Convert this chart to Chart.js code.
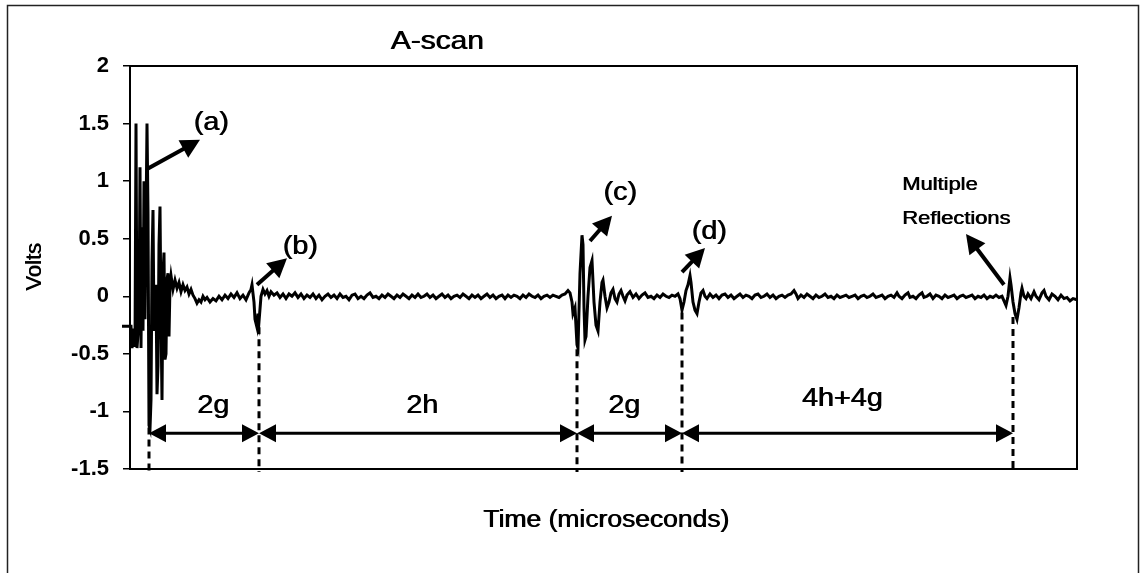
<!DOCTYPE html>
<html><head><meta charset="utf-8">
<script src="https://cdn.jsdelivr.net/npm/chart.js@4.4.0/dist/chart.umd.min.js"></script>
<style>html,body{margin:0;padding:0;background:#fff;}canvas{display:block;}</style>
</head><body>
<canvas id="c" width="1141" height="573"></canvas>
<script>
// ---- data: [time (arbitrary units), volts] ----
const burstA = [[-8,-0.26],[1,-0.26],[2,-0.45],[4,-0.28],[5,-0.44],[6,1.5],[7,-0.45],[9,-0.2],[10,1.12],[11,-0.45],
 [12,0.6],[13,-0.3],[14,1.0],[15,-0.2],[17,1.5],[18,0.72],[19,-1.12],[20,-1.15],[21,-0.9],[22,0.3],
 [23,0.75],[24,-0.3],[26,0.1],[27,-0.85],[28,-0.6],[29,0.45],[30,0.78],[31,-0.2],[32,-0.9],[33,0.2],
 [34,0.38],[35,-0.55],[36,-0.5],[37,0.15],[38,0.2],[39,-0.35],[40,0.1]];
const noiseAB = [[41,0.18],[43,0.06],[45,0.14],[47,0.07],[49,0.12],[51,0.04],[53,0.1],[55,0.05],[57,0.08],[59,0.02],
 [61,0.06],[63,0.01],[65,-0.02],[67,-0.06],[69,-0.03],[71,-0.05],[73,0.0],[75,-0.03],[77,-0.01],[80,-0.05],
 [83,-0.02],[86,-0.04],[89,0.0],[92,-0.03],[95,0.01],[98,-0.02],[101,0.02],[104,-0.01],[107,0.03],[110,-0.02],
 [113,0.01],[116,-0.03],[119,0.03],[121,0.06]];
const echoB = [[122,0.1],[124,-0.05],[125,-0.2],[127,-0.27],[128,-0.15],[129,-0.22],[131,0.0],[133,0.06],[135,0.02],[137,0.05],
 [139,0.0],[141,0.04],[144,0.01],[147,0.03],[150,-0.01],[153,0.02],[156,-0.02],[159,0.02],[162,0.0],[165,0.03],
 [168,-0.01],[171,0.02],[174,-0.02],[177,0.01],[180,-0.01],[183,0.02]];
const noiseBC = [[186,-0.02],[189,0.01],[192,-0.03],[195,0.0],[198,0.02],[201,-0.01],[204,0.01],[207,-0.02],[210,0.02],[213,-0.01],
 [216,0.0],[219,-0.03],[222,0.01],[225,0.02],[228,-0.02],[231,0.0],[234,-0.02],[237,0.01],[240,0.03],[243,-0.01],
 [246,0.0],[249,-0.02],[252,0.01],[255,-0.01],[258,0.02],[261,0.0],[264,-0.02],[267,0.01],[270,-0.01],[273,0.02],
 [276,0.0],[279,-0.02],[282,0.01],[285,-0.01],[288,0.02],[291,-0.01],[294,0.0],[297,0.02],[300,-0.01],[303,0.01],
 [306,-0.02],[309,0.0],[312,0.02],[315,-0.01],[318,0.01],[321,-0.02],[324,0.0],[327,0.01],[330,-0.01],[333,0.02],
 [336,0.0],[339,-0.02],[342,0.01],[345,-0.01],[348,0.01],[351,-0.02],[354,0.0],[357,0.02],[360,-0.01],[363,0.01],
 [366,-0.02],[369,0.0],[372,0.01],[375,-0.02],[378,0.01],[381,-0.01],[384,0.01],[387,0.0],[390,-0.02],[393,0.01],
 [396,-0.01],[399,0.02],[402,0.0],[405,-0.01],[408,0.01],[411,-0.02],[414,0.0],[417,0.01],[420,-0.01],[423,0.01],
 [426,0.0],[429,-0.01],[432,0.01],[435,0.02],[438,0.05],[440,0.03]];
const echoC = [[442,-0.05],[443,-0.15],[445,-0.1],[447,-0.42],[448,-0.45],[450,0.2],[452,0.53],[453,0.45],[454,-0.1],[455,-0.38],
 [456,-0.35],[458,0.0],[460,0.25],[462,0.31],[464,-0.05],[466,-0.25],[468,-0.3],[470,-0.05],[472,0.12],[473,0.14],
 [475,0.0],[477,-0.1],[479,-0.05],[481,0.03],[483,0.06],[485,-0.02],[487,-0.05],[489,0.02],[491,0.05],[493,0.0],
 [495,-0.04],[497,0.01],[500,0.04],[503,-0.01],[506,0.02],[509,-0.02],[512,0.01],[515,0.03],[518,-0.01],[521,0.0],
 [524,-0.02],[527,0.01],[530,-0.01],[533,0.02],[536,0.0],[539,-0.01],[542,0.01],[545,0.0],[548,0.02]];
const echoD = [[550,-0.02],[552,-0.12],[554,-0.05],[556,0.05],[558,0.1],[560,0.18],[561,0.12],[563,-0.05],[565,-0.12],[567,-0.15],
 [569,-0.05],[571,0.03],[573,0.05],[575,0.0],[577,-0.02],[580,0.02],[583,-0.01],[586,0.01]];
const noiseDR = [[589,-0.02],[592,0.01],[595,0.02],[598,-0.01],[601,0.01],[604,-0.02],[607,0.0],[610,0.02],[613,-0.01],[616,0.01],
 [619,0.0],[622,-0.02],[625,0.01],[628,0.02],[631,-0.01],[634,0.0],[637,0.02],[640,-0.01],[643,0.01],[646,-0.02],
 [649,0.0],[652,0.01],[655,-0.01],[658,0.01],[661,0.02],[664,0.05],[666,0.02],[668,-0.02],[671,0.01],[674,-0.01],
 [677,0.02],[680,0.0],[683,-0.02],[686,0.01],[689,-0.01],[692,0.0],[695,0.02],[698,-0.01],[701,0.0],[704,-0.02],
 [707,0.01],[710,-0.01],[713,0.0],[716,0.01],[719,-0.01],[722,0.0],[725,0.01],[728,-0.02],[731,0.0],[734,0.01],
 [737,-0.01],[740,0.0],[743,0.02],[746,-0.01],[749,0.0],[752,0.01],[755,-0.02],[758,0.0],[761,0.01],[764,-0.01],
 [767,0.03],[769,0.0],[772,-0.02],[775,0.01],[778,0.03],[780,-0.01],[783,0.0],[786,-0.02],[789,0.01],[792,0.03],
 [794,-0.01],[797,0.0],[800,0.02],[803,-0.02],[806,0.01],[809,0.0],[812,-0.02],[815,0.01],[818,-0.01],[821,0.0],
 [824,0.01],[827,-0.02],[830,0.0],[833,0.01],[836,-0.01],[839,0.0],[842,0.01],[845,-0.02],[848,0.0],[851,-0.01],
 [854,0.01],[857,-0.02],[860,0.0],[863,-0.01],[866,0.01],[869,-0.01],[872,0.0]];
const echoR = [[874,-0.04],[876,-0.08],[878,0.0],[880,0.16],[881,0.1],[883,-0.05],[885,-0.15],[887,-0.2],[889,-0.1],[891,0.03],
 [892,0.07],[894,0.0]];
const noiseEnd = [[896,-0.02],[898,0.02],[901,-0.02],[904,0.04],[906,0.0],[909,-0.03],[912,0.03],[914,0.05],[916,0.0],[919,-0.03],
 [922,0.02],[925,0.0],[928,-0.03],[931,0.01],[934,-0.02],[937,-0.01],[940,-0.04],[943,-0.02],[947,-0.03]];

const timeRange = [0, 947];
const voltRange = [-1.5, 2];
const voltStep = 0.5;
const voltTickLabels = {'2': '2', '1.5': '1.5', '1': '1', '0.5': '0.5', '0': '0', '-0.5': '-0.5', '-1': '-1', '-1.5': '-1.5'};

// annotation anchors (data units)
const markerTimes = [19, 129, 447, 552, 883];
const markerTops  = [-1.14, -0.27, -0.46, -0.14, -0.18];
const spanVolt = -1.19;
const spanLabels = ['2g', '2h', '2g', '4h+4g'];
const spanLabelTimes = [83, 292, 494, 712];
const spanLabelVolts = [-0.95, -0.95, -0.95, -0.89];
const peakLabels = ['(a)', '(b)', '(c)', '(d)'];
const peakLabelTimes = [81, 170, 490, 579];
const peakLabelVolts = [1.5, 0.43, 0.9, 0.56];
const peakArrowFrom = [[18, 1.11], [127, 0.1], [460, 0.48], [552, 0.21], [874, 0.1]];
const peakArrowTo   = [[70, 1.36], [157, 0.33], [482, 0.7], [575, 0.42], [836, 0.54]];
const noteLines = ['Multiple', 'Reflections'];
const noteTime = 772;
const noteVolts = [0.965, 0.67];

const FONT = '"Liberation Sans", Arial, Helvetica, sans-serif';
const SX = 1.15; // the scanned text is wider than its height suggests
const series = [].concat(burstA, noiseAB, echoB, noiseBC, echoC, echoD, noiseDR, echoR, noiseEnd)
  .map(p => ({x: p[0], y: p[1]}));

function head(ctx, x1, y1, x2, y2, len, hw) {
  const a = Math.atan2(y2 - y1, x2 - x1), c = Math.cos(a), s = Math.sin(a);
  ctx.beginPath();
  ctx.moveTo(x2, y2);
  ctx.lineTo(x2 - len * c + hw * s, y2 - len * s - hw * c);
  ctx.lineTo(x2 - len * c - hw * s, y2 - len * s + hw * c);
  ctx.closePath();
  ctx.fill();
}
function arrow(ctx, x1, y1, x2, y2, lw, len, hw) {
  const a = Math.atan2(y2 - y1, x2 - x1);
  ctx.lineWidth = lw;
  ctx.beginPath();
  ctx.moveTo(x1, y1);
  ctx.lineTo(x2 - len * 0.7 * Math.cos(a), y2 - len * 0.7 * Math.sin(a));
  ctx.stroke();
  head(ctx, x1, y1, x2, y2, len, hw);
}
function txt(ctx, s, x, y, font, align, sx, rot) {
  ctx.save();
  ctx.font = font;
  ctx.textAlign = align;
  ctx.textBaseline = 'middle';
  ctx.translate(x, y);
  if (rot) ctx.rotate(rot);
  ctx.scale(sx, 1);
  ctx.fillText(s, 0, 0);
  ctx.fillText(s, 0.7, 0);
  ctx.restore();
}

const decor = {
  id: 'decor',
  beforeDraw(chart) {
    const ctx = chart.ctx;
    ctx.save();
    ctx.fillStyle = '#fff';
    ctx.fillRect(0, 0, chart.width, chart.height);
    ctx.restore();
  },
  afterDraw(chart) {
    const {ctx, chartArea: A, scales: {x, y}} = chart;
    const X = t => x.getPixelForValue(t), Y = v => y.getPixelForValue(v);
    ctx.save();
    ctx.fillStyle = '#000';
    // outer frame
    ctx.lineWidth = 1.5;
    ctx.strokeStyle = '#222';
    ctx.beginPath();
    ctx.moveTo(7.5, 580); ctx.lineTo(7.5, 5.5); ctx.lineTo(1138.5, 5.5); ctx.lineTo(1138.5, 580);
    ctx.stroke();
    ctx.strokeStyle = '#000';
    // plot frame
    ctx.lineWidth = 2;
    ctx.strokeRect(A.left, A.top, A.right - A.left, A.bottom - A.top);
    // dashed markers
    ctx.lineWidth = 3;
    ctx.setLineDash([7, 5]);
    markerTimes.forEach((t, i) => {
      ctx.beginPath();
      ctx.moveTo(X(t), Y(markerTops[i]));
      ctx.lineTo(X(t), A.bottom + 3);
      ctx.stroke();
    });
    ctx.setLineDash([]);
    // span arrows
    for (let i = 0; i < markerTimes.length - 1; i++) {
      const xa = X(markerTimes[i]), xb = X(markerTimes[i + 1]), yy = Y(spanVolt);
      ctx.lineWidth = 3;
      ctx.beginPath(); ctx.moveTo(xa + 8, yy); ctx.lineTo(xb - 8, yy); ctx.stroke();
      head(ctx, xb, yy, xa, yy, 17, 9);
      head(ctx, xa, yy, xb, yy, 17, 9);
    }
    // peak arrows
    peakArrowFrom.forEach((p, i) => {
      const q = peakArrowTo[i];
      arrow(ctx, X(p[0]), Y(p[1]), X(q[0]), Y(q[1]), 4, 19, 10);
    });
    // span labels
    spanLabels.forEach((s, i) => txt(ctx, s, X(spanLabelTimes[i]), Y(spanLabelVolts[i]), '25px ' + FONT, 'center', SX));
    // peak labels
    peakLabels.forEach((s, i) => txt(ctx, s, X(peakLabelTimes[i]), Y(peakLabelVolts[i]), '25px ' + FONT, 'center', SX));
    // note
    noteLines.forEach((s, i) => txt(ctx, s, X(noteTime), Y(noteVolts[i]), '19px ' + FONT, 'left', SX));
    // titles
    txt(ctx, 'A-scan', 437, 42, '26px ' + FONT, 'center', SX);
    txt(ctx, 'Time (microseconds)', 606, 521, '23px ' + FONT, 'center', SX);
    txt(ctx, 'Volts', 35, 267, '22px ' + FONT, 'center', 1, -Math.PI / 2);
    ctx.restore();
  }
};

new Chart(document.getElementById('c'), {
  type: 'line',
  data: {
    datasets: [{
      data: series,
      borderColor: '#000',
      borderWidth: 3,
      pointRadius: 0,
      tension: 0,
      fill: false,
      clip: false
    }]
  },
  options: {
    responsive: false,
    animation: false,
    devicePixelRatio: 1,
    layout: {padding: {top: 66, right: 64, bottom: 104, left: 0}},
    plugins: {legend: {display: false}, tooltip: {enabled: false}, title: {display: false}},
    scales: {
      x: {type: 'linear', min: timeRange[0], max: timeRange[1], display: false},
      y: {
        min: voltRange[0], max: voltRange[1],
        afterFit: s => { s.width = 130; },
        ticks: {stepSize: voltStep, color: '#000', padding: 14,
                font: {size: 22, weight: 'bold', family: FONT},
                callback: v => voltTickLabels[String(v)] ?? String(v)},
        grid: {drawOnChartArea: false, drawTicks: true, tickLength: 7, color: '#000', lineWidth: 1.5},
        border: {display: true, color: '#000', width: 2}
      }
    }
  },
  plugins: [decor]
});
</script>
</body></html>
